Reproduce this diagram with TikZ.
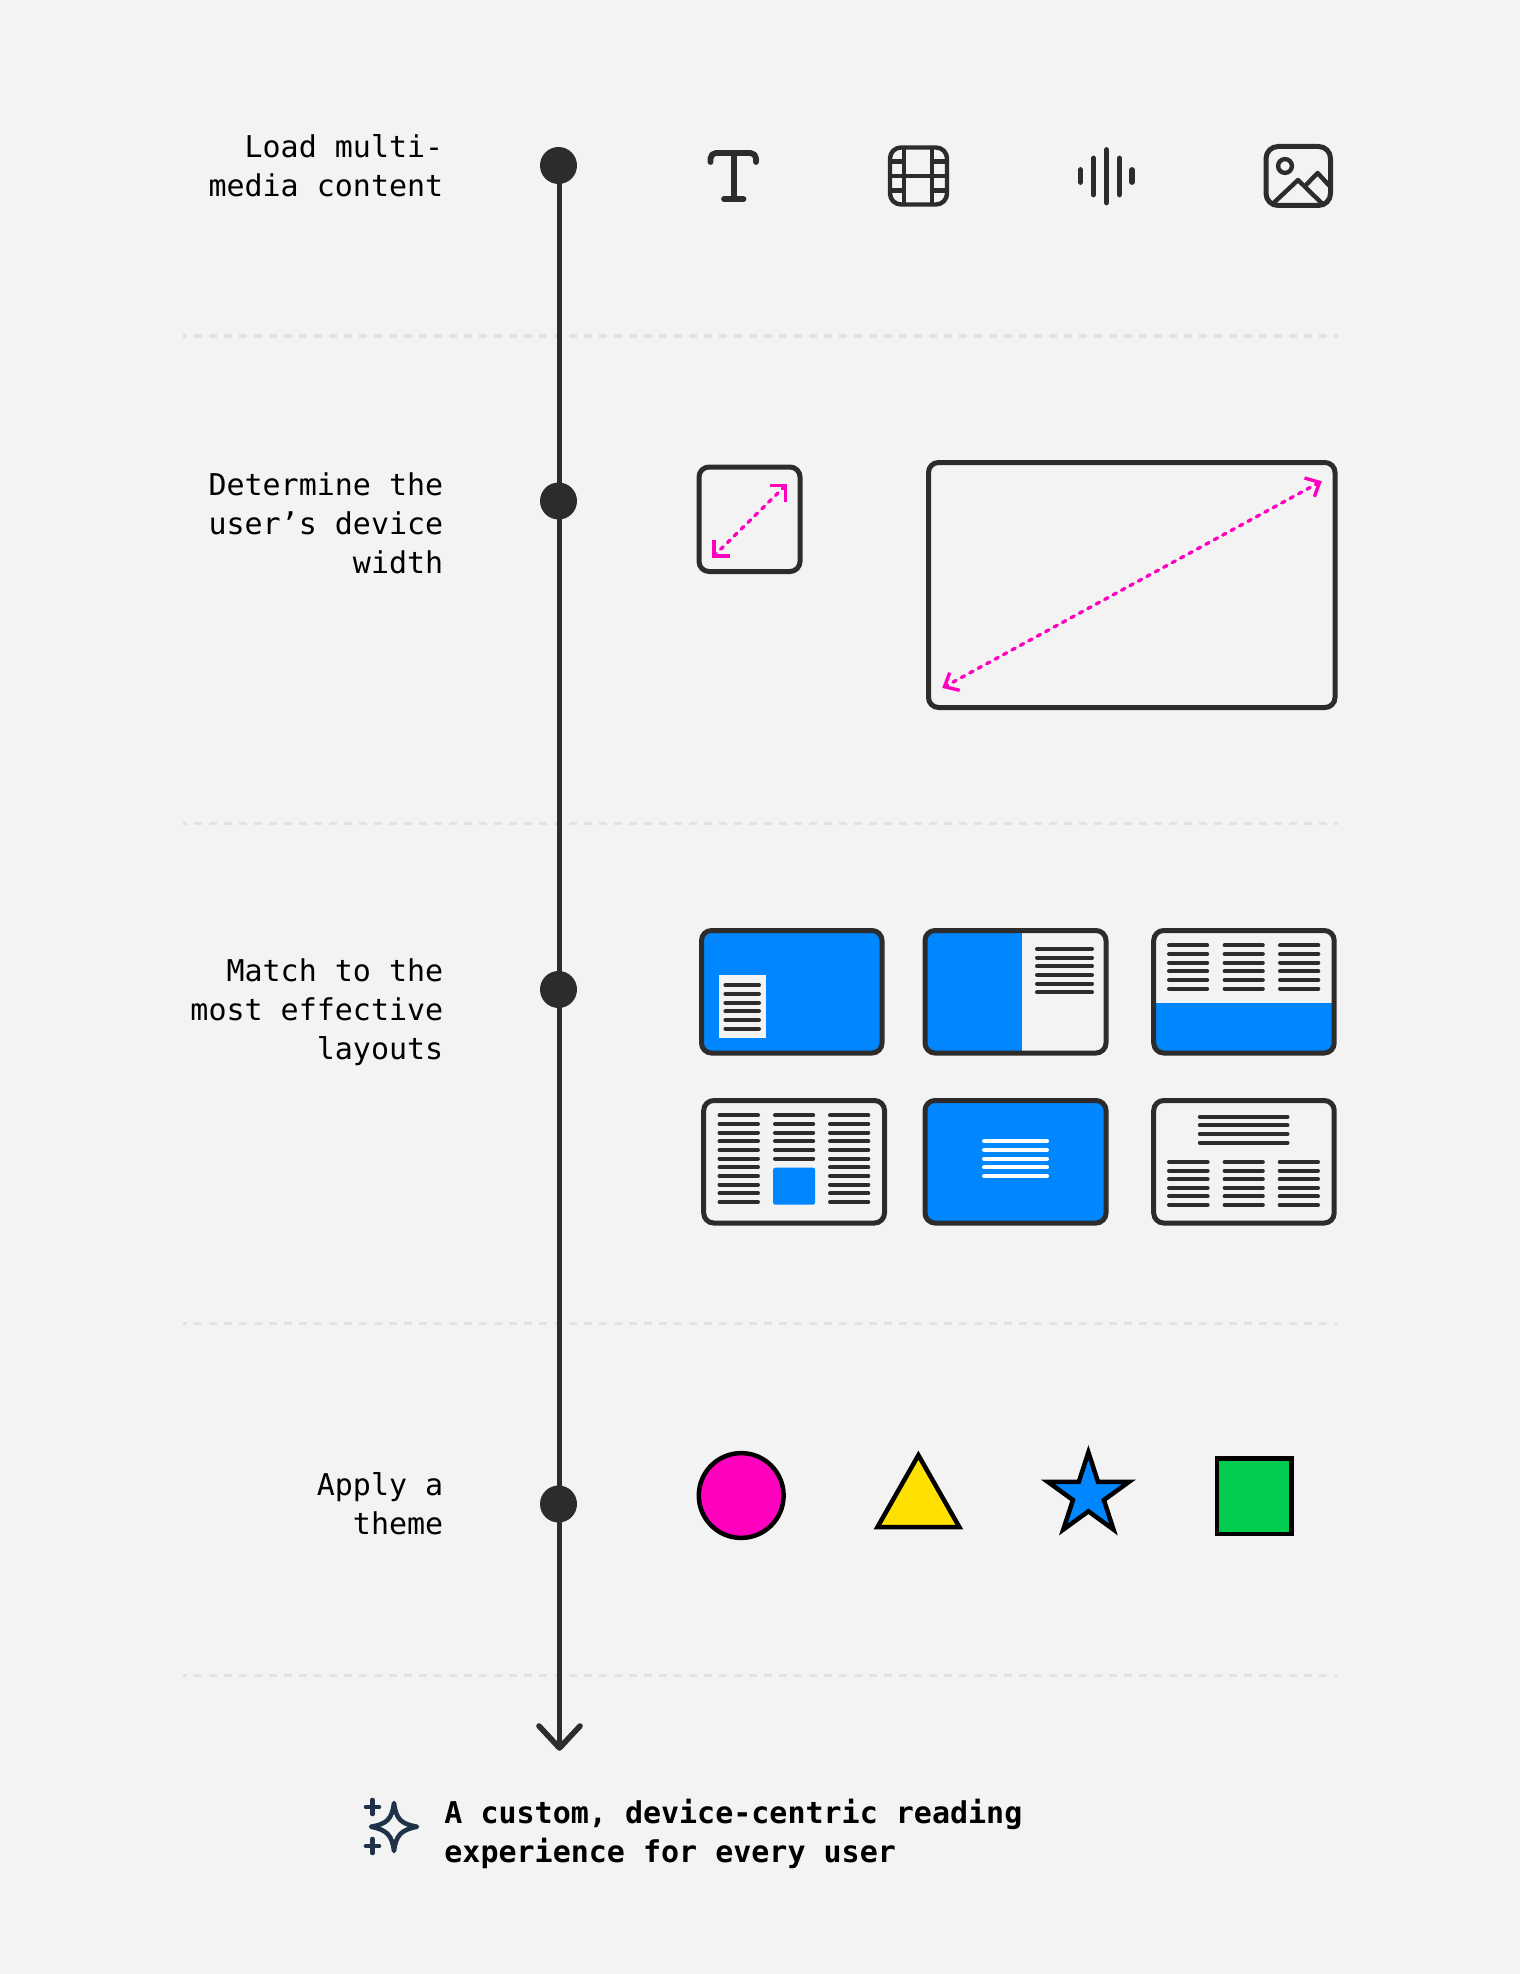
\documentclass[tikz,border=0pt]{standalone}
\usepackage{fontspec}
\setmonofont{DejaVu Sans Mono}
\definecolor{bg}{HTML}{F3F3F3}
\definecolor{ink}{HTML}{2E2C2B}
\definecolor{rule}{HTML}{E2E2E2}
\definecolor{bluefill}{HTML}{0087FF}
\definecolor{magentafill}{HTML}{FF00BF}
\definecolor{yellowfill}{HTML}{FFE000}
\definecolor{greenfill}{HTML}{00CC50}
\definecolor{navy}{HTML}{1F3247}
\tikzset{
  dotnode/.style={circle,fill=ink,draw=none,minimum size=18.5pt,inner sep=0pt},
  axisline/.style={draw=ink,line width=2.9pt},
  headline/.style={draw=ink,line width=2.8pt,line cap=round,line join=round},
  sep/.style={draw=rule,line width=1.6pt,dash pattern=on 4pt off 3.5pt,dash phase=2pt},
  label/.style={font=\ttfamily\fontsize{15}{19.53}\selectfont,align=right,anchor=north east,inner sep=0pt,text=black},
  result/.style={font=\ttfamily\bfseries\fontsize{15}{19.53}\selectfont,align=left,anchor=north west,inner sep=0pt,text=black},
  icon/.style={draw=ink,line width=2.9pt,line cap=round,line join=round},
  thinicon/.style={draw=ink,line width=2.2pt,line cap=round,line join=round},
  frame/.style={draw=ink,line width=2.5pt,rounded corners=5pt},
  ln/.style={draw=ink,line width=2pt,line cap=round},
  wln/.style={draw=white,line width=2pt,line cap=round},
  pinkarrow/.style={draw=magentafill,line width=1.7pt},
  pinkdots/.style={draw=magentafill,line width=1.7pt,line cap=round,dash pattern=on 1.8pt off 3pt},
  shapeline/.style={draw=black,line width=2.25pt,miter limit=10},
  spark/.style={draw=navy,line width=2.3pt,line cap=round,line join=round}
}
\begin{document}
\begin{tikzpicture}[x=0.5pt,y=-0.5pt]
\useasboundingbox[fill=bg] (0,0) rectangle (1520,1974);

% separators
\foreach \y in {336,823.5,1323.5,1675.5}{\draw[sep] (183,\y) -- (1338,\y);}

% timeline
\node[dotnode] (dotA) at (558.5,165.5) {};
\node[dotnode] (dotB) at (558.5,501) {};
\node[dotnode] (dotC) at (558.5,989.5) {};
\node[dotnode] (dotD) at (558.5,1504) {};
\coordinate (tip) at (559.5,1748);
\coordinate (headL) at (539,1726);
\coordinate (headR) at (580,1726);
\draw[axisline] (tip |- dotA) -- (tip);
\draw[headline] (headL) -- (tip) -- (headR);

% labels
\node[label] (lblA) at (443.7,134) {Load multi-\\media content};
\node[label] (lblB) at (443.7,472) {Determine the\\user’s device\\width};
\node[label] (lblC) at (443.7,958.5) {Match to the\\most effective\\layouts};
\node[label] (lblD) at (443.7,1472) {Apply a\\theme};
\node[result] (res) at (444,1798.7) {A custom, device-centric reading\\experience for every user};

% icon T
\draw[icon] (710.5,162) -- (710.5,158.5) arc[start angle=180,end angle=270,radius=5.5] -- (750.5,153) arc[start angle=-90,end angle=0,radius=5.5] -- (756,162);
\draw[icon] (733.7,153) -- (733.7,199);
\draw[icon] (724,199) -- (743.5,199);

% icon film
\draw[thinicon,rounded corners=5.5pt] (890,147.5) rectangle (947,204.5);
\draw[thinicon,line cap=butt] (904,147.5) -- (904,204.5) (932,147.5) -- (932,204.5) (890,176) -- (947,176)
  (890,161.7) -- (904,161.7) (932,161.7) -- (947,161.7) (890,190.7) -- (904,190.7) (932,190.7) -- (947,190.7);

% icon waveform
\draw[icon] (1080.5,170) -- (1080.5,182) (1093.5,158.5) -- (1093.5,194.5) (1106.4,150) -- (1106.4,202.5) (1119.4,158.5) -- (1119.4,194.5) (1132.3,170) -- (1132.3,182);

% icon image
\draw[thinicon,line width=2.5pt,rounded corners=6pt] (1266,146.5) rectangle (1330.5,205.5);
\draw[thinicon] (1285,166) circle[radius=6.9];
\draw[thinicon] (1272.5,204) -- (1298,180) -- (1322.5,204);
\draw[thinicon] (1306,185) -- (1317.6,173) -- (1329.6,186);

% device frames
\draw[frame] (699,467) rectangle (800,571.5);
\draw[frame] (928.5,462.5) rectangle (1335,707.5);
\coordinate (sTR) at (785.4,485.7);
\coordinate (sBL) at (713.8,556);
\coordinate (bTR) at (1319.6,482.3);
\coordinate (bBL) at (944.5,686.7);
\draw[pinkdots] (sBL) -- (sTR);
\draw[pinkdots] (bBL) -- (bTR);
\draw[pinkarrow] (770,485.7) -- (sTR) -- (785.4,501.7);
\draw[pinkarrow] (713.8,540) -- (sBL) -- (729.5,556);
\draw[pinkarrow] (1304.5,478) -- (bTR) -- (1314.4,496.7);
\draw[pinkarrow] (949.7,672.7) -- (bBL) -- (959.7,690.3);

% card 1
\fill[bluefill,rounded corners=5pt] (701.5,930.5) rectangle (882,1053);
\fill[bg] (718.9,975.3) rectangle (766.3,1038);
\foreach \k in {0,...,5}{\draw[ln] (725.4,{985.3+\k*8.67}) -- (759,{985.3+\k*8.67});}
\draw[frame] (701.5,930.5) rectangle (882,1053);

% card 2
\begin{scope}
\clip[rounded corners=5pt] (925,930.5) rectangle (1106,1053);
\fill[bluefill] (925,930.5) rectangle (1021.5,1053);
\end{scope}
\foreach \k in {0,...,5}{\draw[ln] (1037,{949+\k*8.67}) -- (1092,{949+\k*8.67});}
\draw[frame] (925,930.5) rectangle (1106,1053);

% card 3
\begin{scope}
\clip[rounded corners=5pt] (1153.7,930.5) rectangle (1334.2,1053);
\fill[bluefill] (1153.7,1003) rectangle (1334.2,1053);
\end{scope}
\foreach \c/\e in {1169/1207.2,1224.6/1262.8,1280/1318.3}{\foreach \k in {0,...,5}{\draw[ln] (\c,{945.3+\k*8.67}) -- (\e,{945.3+\k*8.67});}}
\draw[frame] (1153.7,930.5) rectangle (1334.2,1053);

% card 4
\fill[bluefill,rounded corners=1pt] (773.2,1167.7) rectangle (815,1204.7);
\foreach \c/\e in {719.5/758,830/868.3}{\foreach \k in {0,...,10}{\draw[ln] (\c,{1115.3+\k*8.67}) -- (\e,{1115.3+\k*8.67});}}
\foreach \k in {0,...,5}{\draw[ln] (775,{1115.3+\k*8.67}) -- (813.2,{1115.3+\k*8.67});}
\draw[frame] (703.7,1100.5) rectangle (884.5,1223);

% card 5
\fill[bluefill,rounded corners=5pt] (925,1100.5) rectangle (1106,1223);
\foreach \k in {0,...,4}{\draw[wln] (984,{1141.3+\k*8.67}) -- (1047,{1141.3+\k*8.67});}
\draw[frame] (925,1100.5) rectangle (1106,1223);

% card 6
\foreach \k in {0,...,3}{\draw[ln] (1199.8,{1116.7+\k*8.67}) -- (1287.5,{1116.7+\k*8.67});}
\foreach \c/\e in {1169/1207.6,1224.6/1262.8,1279.7/1318}{\foreach \k in {0,...,5}{\draw[ln] (\c,{1162+\k*8.6}) -- (\e,{1162+\k*8.6});}}
\draw[frame] (1153.7,1100.5) rectangle (1334.2,1223);

% theme shapes
\draw[shapeline,fill=magentafill] (741.2,1495.5) circle[radius=42.4];
\draw[shapeline,fill=yellowfill] (918.4,1455.2) -- (959.3,1527) -- (877.5,1527) -- cycle;
\draw[shapeline,fill=bluefill] (1088.4,1452.3) -- (1098,1481.8) -- (1129,1481.8) -- (1103.9,1500) -- (1113.5,1529.5) -- (1088.4,1511.3) -- (1063.3,1529.5) -- (1072.9,1500) -- (1047.8,1481.8) -- (1078.8,1481.8) -- cycle;
\draw[draw=black,line width=2.4pt,fill=greenfill] (1217,1458.5) rectangle (1291.5,1534);

% sparkle
\draw[spark] (394,1803) .. controls (396,1819) and (401,1824) .. (417,1826.7) .. controls (401,1830) and (396,1835) .. (394,1851) .. controls (392,1835) and (387,1830) .. (371,1826.7) .. controls (387,1824) and (392,1819) .. (394,1803) -- cycle;
\draw[spark] (366,1807) -- (379,1807) (372.5,1800) -- (372.5,1814);
\draw[spark] (366,1846) -- (379,1846) (372.5,1839) -- (372.5,1853);
\end{tikzpicture}
\end{document}
